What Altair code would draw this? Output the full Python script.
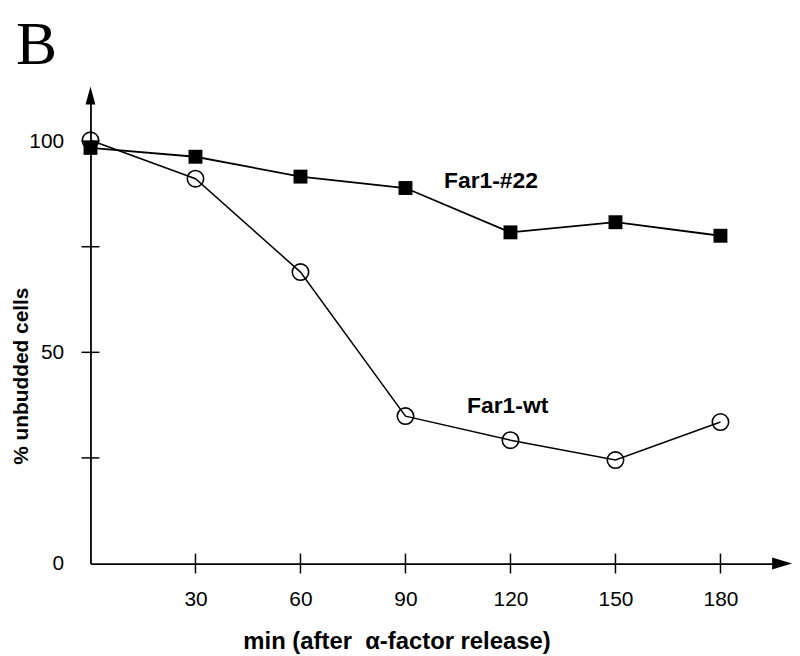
import altair as alt
import pandas as pd

# ---- data ----
minutes = [0, 30, 60, 90, 120, 150, 180]
far1_22 = [98.4, 96.3, 91.6, 88.9, 78.4, 80.8, 77.6]
far1_wt = [100.2, 91.1, 69.0, 34.9, 29.2, 24.5, 33.5]

x_tick_values = [30, 60, 90, 120, 150, 180]
y_tick_values = [25, 50, 75, 100]
y_label_values = [0, 50, 100]

series_names = ["Far1-#22", "Far1-wt"]
label_minutes = [101.0, 107.6]
label_values = [90.6, 37.2]

X_MAX = 197.6
Y_MAX = 110.8

FONT = "Liberation Sans"

xs = alt.Scale(domain=[0, X_MAX], nice=False, zero=False)
ys = alt.Scale(domain=[0, Y_MAX], nice=False, zero=False)

df22 = pd.DataFrame({"min": minutes, "val": far1_22})
dfwt = pd.DataFrame({"min": minutes, "val": far1_wt})
df_lab = pd.DataFrame({"min": label_minutes, "val": label_values, "name": series_names})
df_xt = pd.DataFrame({"min": x_tick_values, "val": [0] * len(x_tick_values)})
df_yt = pd.DataFrame({"min": [0] * len(y_tick_values), "val": y_tick_values})
df_ya = pd.DataFrame({"min": [0], "val": [Y_MAX]})
df_xa = pd.DataFrame({"min": [X_MAX], "val": [0]})

x_axis = alt.Axis(
    values=x_tick_values, ticks=False, grid=False, domain=True,
    domainColor="black", domainWidth=1.8,
    labelFont=FONT, labelFontSize=21, labelColor="black", labelPadding=25,
    title="min (after \u00a0\u03b1-factor release)",
    titleFont=FONT, titleFontSize=24, titleFontWeight="bold", titleColor="black",
    titleX=308, titleY=86, titleAlign="center", titleBaseline="alphabetic",
)
y_axis = alt.Axis(
    values=y_label_values, ticks=False, grid=False, domain=True,
    domainColor="black", domainWidth=1.8,
    labelFont=FONT, labelFontSize=21, labelColor="black", labelPadding=27,
    title="% unbudded cells",
    titleFont=FONT, titleFontSize=21, titleFontWeight="bold", titleColor="black",
    titleAngle=-90, titleX=-69, titleY=282, titleAlign="center", titleBaseline="middle",
)


def X():
    return alt.X("min:Q", scale=xs, axis=x_axis)


def Y():
    return alt.Y("val:Q", scale=ys, axis=y_axis)


line22 = alt.Chart(df22).mark_line(color="black", strokeWidth=1.8).encode(x=X(), y=Y())
pts22 = alt.Chart(df22).mark_point(
    shape="square", filled=True, size=196, color="black", opacity=1
).encode(x=X(), y=Y())

linewt = alt.Chart(dfwt).mark_line(color="black", strokeWidth=1.5).encode(x=X(), y=Y())
ptswt = alt.Chart(dfwt).mark_point(
    shape="circle", filled=False, size=272, color="black", strokeWidth=1.6, opacity=1
).encode(x=X(), y=Y())

xticks = alt.Chart(df_xt).mark_tick(
    orient="vertical", size=20, thickness=1.5, color="black", opacity=1
).encode(x=X(), y=Y())
yticks = alt.Chart(df_yt).mark_tick(
    orient="horizontal", size=18, thickness=1.5, color="black", opacity=1
).encode(x=X(), y=Y())

y_arrow = alt.Chart(df_ya).mark_point(
    shape="M-0.55,1L0.55,1L0,-1Z", size=324, filled=True, color="black", opacity=1
).encode(x=X(), y=Y())
x_arrow = alt.Chart(df_xa).mark_point(
    shape="M-1,-0.6L1,0L-1,0.6Z", size=400, filled=True, color="black", opacity=1
).encode(x=X(), y=Y())

labels = alt.Chart(df_lab).mark_text(
    align="left", baseline="middle", font=FONT, fontSize=23, fontWeight="bold", color="black"
).encode(x=X(), y=Y(), text="name:N")

panel = alt.Chart(pd.DataFrame({"t": ["B"]})).mark_text(
    align="left", baseline="alphabetic", font="Liberation Serif", fontSize=62, color="black"
).encode(x=alt.value(-75), y=alt.value(-32), text="t:N")

chart = alt.layer(
    line22, linewt, pts22, ptswt, xticks, yticks, y_arrow, x_arrow, labels, panel
).properties(
    width=696, height=471,
    padding={"left": 83, "top": 86, "right": 10, "bottom": 91},
    autosize=alt.AutoSizeParams(type="none"),
).configure_view(stroke=None)

chart.save("out.html", embed_options={"renderer": "svg", "actions": False})
